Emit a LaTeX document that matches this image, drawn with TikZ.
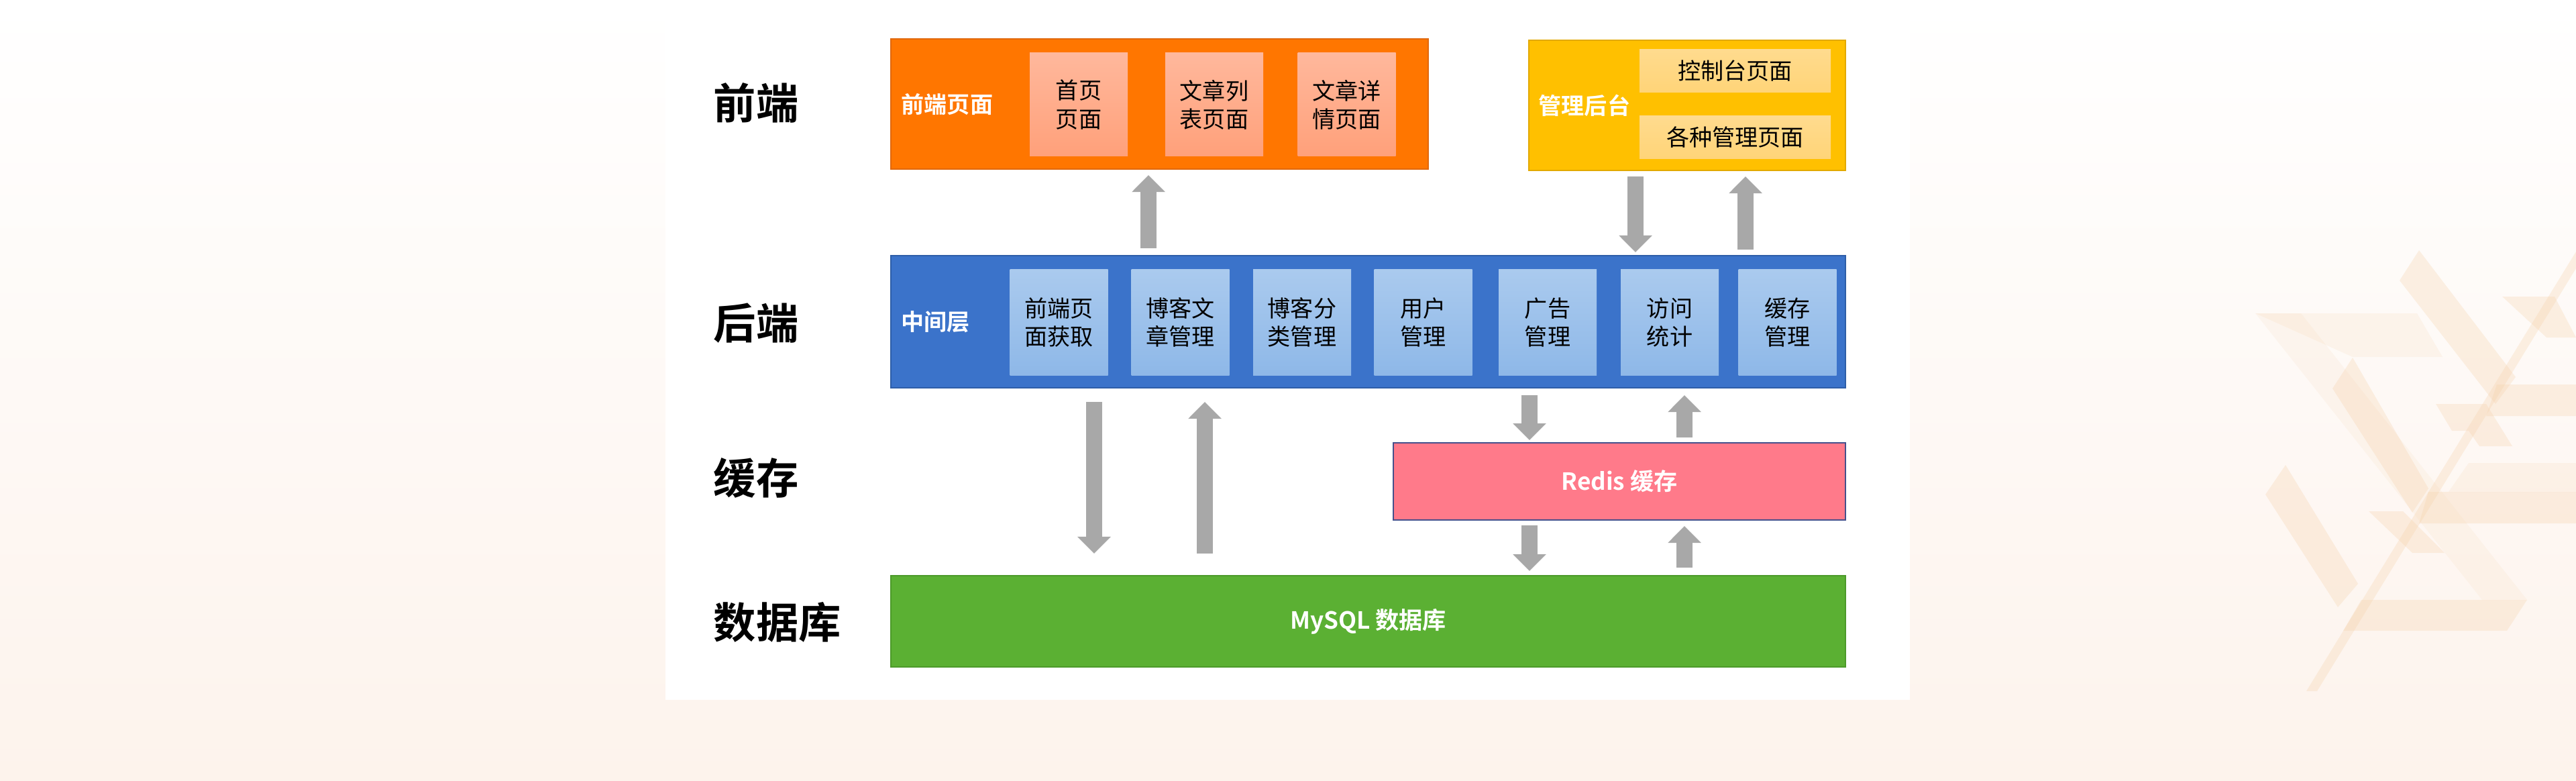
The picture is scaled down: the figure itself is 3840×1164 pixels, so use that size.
\documentclass[tikz,border=0pt]{standalone}
\usepackage{fontspec}
\setmainfont{Noto Sans CJK SC}[BoldFont={Noto Sans CJK SC Bold}]
\usetikzlibrary{arrows.meta,calc}
\newlength\upx \setlength\upx{0.01cm}
\definecolor{bgcream}{HTML}{FDF3EC}
\definecolor{orangeF}{HTML}{FF7600}
\definecolor{orangeD}{HTML}{E0680E}
\definecolor{salmonT}{HTML}{FFB89C}
\definecolor{salmonB}{HTML}{FFA07A}
\definecolor{yellowF}{HTML}{FFC000}
\definecolor{yellowD}{HTML}{E2A900}
\definecolor{ylightT}{HTML}{FFDB8E}
\definecolor{ylightB}{HTML}{FFD478}
\definecolor{blueF}{HTML}{3B73CA}
\definecolor{blueD}{HTML}{2E5EA8}
\definecolor{lblueT}{HTML}{AACAEE}
\definecolor{lblueB}{HTML}{8EB8E8}
\definecolor{redisF}{HTML}{FF7A8A}
\definecolor{redisD}{HTML}{45508C}
\definecolor{greenF}{HTML}{5BB033}
\definecolor{greenD}{HTML}{4C9A2A}
\definecolor{arrgray}{HTML}{A8A8A8}
\definecolor{deco}{HTML}{F5CFA6}
\tikzset{
  layerlabel/.style={anchor=west,inner sep=0pt,font=\bfseries\fontsize{18}{20}\selectfont,text=black},
  bigbox/.style={rectangle,inner sep=0pt,line width=0.57pt},
  boxlabel/.style={anchor=west,inner sep=0pt,font=\bfseries\fontsize{9.7}{12}\selectfont,text=white},
  subtext/.style={inner sep=0pt,align=center,font=\fontsize{9.7}{12}\selectfont,text=black},
  osub/.style={subtext,top color=salmonT,bottom color=salmonB,minimum width=146\upx,minimum height=154\upx},
  ysub/.style={subtext,top color=ylightT,bottom color=ylightB,minimum width=285\upx,minimum height=64\upx},
  bsub/.style={subtext,top color=lblueT,bottom color=lblueB,minimum width=146\upx,minimum height=157\upx},
  bigarr/.style={draw=arrgray,line width=6.83pt,-{Triangle[width=13.66pt,length=7.11pt]}},
  decop/.style={fill=deco,opacity=0.28,draw=none}
}
\begin{document}
\begin{tikzpicture}[x=0.01cm,y=-0.01cm]
\useasboundingbox (0,0) rectangle (3840,1164);
% background
\shade[top color=white,bottom color=bgcream] (0,0) rectangle (3840,1164);
% decoration
\fill[decop,opacity=0.15] (3362,467) -- (3603,467) -- (3641,532) -- (3507,532) -- cycle;
\fill[decop,opacity=0.12] (3362,467) -- (3430,467) -- (3767,894) -- (3700,894) -- cycle;
\fill[decop] (3577,418) -- (3606,373) -- (3750,562) -- (3720,602) -- cycle;
\fill[decop] (3477,579) -- (3507,533) -- (3620,728) -- (3596,764) -- cycle;
\fill[decop] (3377,737) -- (3407,693) -- (3515,870) -- (3485,905) -- cycle;
\fill[decop] (3438,1030) -- (3454,1030) -- (3840,400) -- (3840,375) -- cycle;
\fill[decop] (3520,894) -- (3767,894) -- (3737,940) -- (3493,940) -- cycle;
\fill[decop] (3620,733) -- (3840,733) -- (3840,780) -- (3606,780) -- cycle;
\fill[decop] (3722,573) -- (3840,573) -- (3840,620) -- (3706,620) -- cycle;
\fill[decop] (3730,442) -- (3808,442) -- (3840,503) -- (3796,503) -- cycle;
\fill[decop] (3631,602) -- (3706,602) -- (3745,665) -- (3696,665) -- (3680,642) -- (3655,642) -- cycle;
\fill[decop] (3531,762) -- (3582,762) -- (3644,824) -- (3596,824) -- cycle;
\fill[decop,opacity=0.16] (3680,690) -- (3840,690) -- (3840,733) -- (3650,733) -- cycle;
% white panel
\fill[white] (992,0) rectangle (2847,1043);
% layer labels
\node[layerlabel] (lfront) at (1063,153) {前端};
\node[layerlabel] (lback) at (1063,482) {后端};
\node[layerlabel] (lcache) at (1063,712) {缓存};
\node[layerlabel] (ldb) at (1063,927) {数据库};
% front end
\node[bigbox,fill=orangeF,draw=orangeD,minimum width=801\upx,minimum height=194\upx] (front) at (1728.5,155) {};
\node[boxlabel] (frontlbl) at (1343,156) {前端页面};
\node[osub] (o1) at (1608,156) {首页\\页面};
\node[osub] (o2) at (1810,156) {文章列\\表页面};
\node[osub] (o3) at (2007.5,156) {文章详\\情页面};
% admin
\node[bigbox,fill=yellowF,draw=yellowD,minimum width=472\upx,minimum height=194\upx] (admin) at (2515,157) {};
\node[boxlabel] (adminlbl) at (2293,157) {管理后台};
\node[ysub] (y1) at (2586.5,106) {控制台页面};
\node[ysub] (y2) at (2586.5,204.5) {各种管理页面};
% backend
\node[bigbox,fill=blueF,draw=blueD,minimum width=1423\upx,minimum height=197\upx] (back) at (2039.5,479.5) {};
\node[boxlabel] (backlbl) at (1343,480) {中间层};
\node[bsub] (b1) at (1578.5,480.5) {前端页\\面获取};
\node[bsub] (b2) at (1759.5,480.5) {博客文\\章管理};
\node[bsub] (b3) at (1941,480.5) {博客分\\类管理};
\node[bsub] (b4) at (2121.5,480.5) {用户\\管理};
\node[bsub] (b5) at (2307,480.5) {广告\\管理};
\node[bsub] (b6) at (2489,480.5) {访问\\统计};
\node[bsub] (b7) at (2664.5,480.5) {缓存\\管理};
% redis
\node[bigbox,fill=redisF,draw=redisD,minimum width=674\upx,minimum height=115\upx,font=\bfseries\fontsize{10}{12}\selectfont,text=white] (redis) at (2414,717.5) {Redis 缓存};
% mysql
\node[bigbox,fill=greenF,draw=greenD,minimum width=1423\upx,minimum height=136\upx,font=\bfseries\fontsize{10}{12}\selectfont,text=white] (mysql) at (2039.5,926) {MySQL 数据库};
% arrow columns
\coordinate (c1) at (1712,0);
\coordinate (c2) at (2438,0);
\coordinate (c3) at (2602,0);
\coordinate (c4) at (1631,0);
\coordinate (c5) at (1796,0);
\coordinate (c6) at (2280,0);
\coordinate (c7) at (2511,0);
% arrows
\draw[bigarr,shorten <=2.85pt,shorten >=2.28pt] (back.north -| c1) -- (front.south -| c1);
\draw[bigarr,shorten <=2.28pt,shorten >=1.14pt] (admin.south -| c2) -- (back.north -| c2);
\draw[bigarr,shorten <=2.28pt,shorten >=2.28pt] (back.north -| c3) -- (admin.south -| c3);
\draw[bigarr,shorten <=5.69pt,shorten >=9.1pt] (back.south -| c4) -- (mysql.north -| c4);
\draw[bigarr,shorten <=9.1pt,shorten >=5.69pt] (mysql.north -| c5) -- (back.south -| c5);
\draw[bigarr,shorten <=2.85pt,shorten >=0.85pt] (back.south -| c6) -- (redis.north -| c6);
\draw[bigarr,shorten <=2pt,shorten >=2.85pt] (redis.north -| c7) -- (back.south -| c7);
\draw[bigarr,shorten <=2pt,shorten >=1.7pt] (redis.south -| c6) -- (mysql.north -| c6);
\draw[bigarr,shorten <=3.13pt,shorten >=2.28pt] (mysql.north -| c7) -- (redis.south -| c7);
\end{tikzpicture}
\end{document}
